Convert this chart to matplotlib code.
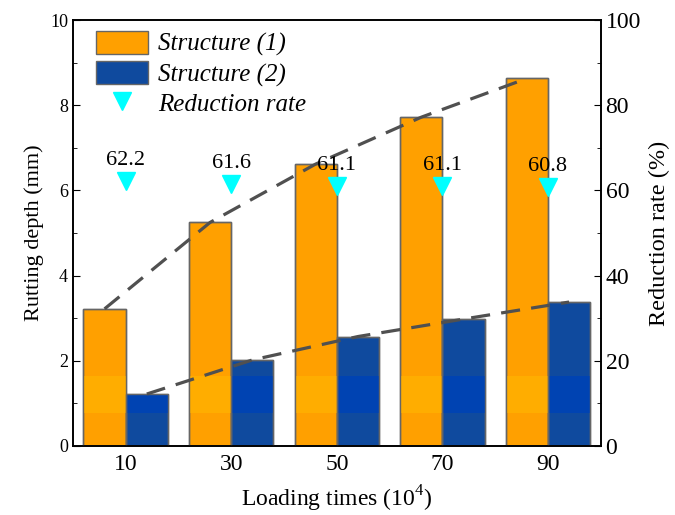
import matplotlib.pyplot as plt
import numpy as np
from matplotlib.ticker import MultipleLocator

plt.rcParams['font.family'] = ['Liberation Serif', 'DejaVu Serif']
plt.rcParams['mathtext.fontset'] = 'custom'
plt.rcParams['mathtext.rm'] = 'Liberation Serif'

loading = ['10', '30', '50', '70', '90']
depth_s1 = [3.22, 5.25, 6.62, 7.72, 8.63]   # Structure (1), mm
depth_s2 = [1.22, 2.02, 2.57, 2.98, 3.38]   # Structure (2), mm
reduction = [62.2, 61.6, 61.1, 61.1, 60.8]  # %

c1 = '#FFA000'
c1_band = '#FFAD00'
c2 = '#0F4A9E'
c2_band = '#0043B2'
band_lo, band_hi = 0.77, 1.64   # lighter stripe in the bars (gradient look)

x = np.arange(len(loading))
w = 0.4

fig = plt.figure(figsize=(6.75, 5.15), dpi=100)
ax = fig.add_axes([0.108, 0.134, 0.782, 0.827])
ax2 = ax.twinx()

b1 = ax.bar(x - w/2, depth_s1, w, color=c1, edgecolor='#666666', linewidth=1.0,
            label='Structure (1)', zorder=2)
b2 = ax.bar(x + w/2, depth_s2, w, color=c2, edgecolor='#666666', linewidth=1.0,
            label='Structure (2)', zorder=2)
# stripe overlay
for xs, vals, cb in [(x - w/2, depth_s1, c1_band), (x + w/2, depth_s2, c2_band)]:
    for xi, v in zip(xs, vals):
        top = min(v, band_hi)
        ax.bar(xi, top - band_lo, w, bottom=band_lo, color=cb, linewidth=0, zorder=2.5)
# redraw edges on top of stripe
ax.bar(x - w/2, depth_s1, w, fill=False, edgecolor='#666666', linewidth=1.0, zorder=3)
ax.bar(x + w/2, depth_s2, w, fill=False, edgecolor='#666666', linewidth=1.0, zorder=3)

# trend lines through bar tops
ax.plot(x - w/2, depth_s1, ls=(0, (6, 3.5)), color='#505050', lw=2.3, zorder=4)
ax.plot(x + w/2, depth_s2, ls=(0, (6, 3.5)), color='#505050', lw=2.3, zorder=4)

ax.set_xlim(-0.5, 4.5)
ax.set_ylim(0, 10)
ax.set_xticks(x)
ax.set_xticklabels(loading, fontsize=17)
ax.yaxis.set_major_locator(MultipleLocator(2))
ax.yaxis.set_minor_locator(MultipleLocator(1))
ax.tick_params(axis='x', length=0, pad=6)
ax.tick_params(axis='y', which='major', direction='in', length=5, labelsize=13)
ax.tick_params(axis='y', which='minor', direction='in', length=3)
ax.set_ylabel('Rutting depth (mm)', fontsize=16, labelpad=4)
ax.set_xlabel(r'Loading times (10$^{4}$)', fontsize=17, labelpad=6)

m = ax2.plot(x, reduction, ls='none', marker='v', color='#00FFFF', markersize=13,
             label='Reduction rate', zorder=5)
for xi, r in zip(x, reduction):
    ax2.text(xi, r + 2.6, f'{r:.1f}', ha='center', va='bottom', fontsize=16)
ax2.set_ylim(0, 100)
ax2.yaxis.set_major_locator(MultipleLocator(20))
ax2.yaxis.set_minor_locator(MultipleLocator(10))
ax2.tick_params(axis='y', which='major', direction='in', length=5, labelsize=17)
ax2.tick_params(axis='y', which='minor', direction='in', length=3)
ax2.set_ylabel('Reduction rate (%)', fontsize=17.5, labelpad=6)

for a in (ax, ax2):
    for s in a.spines.values():
        s.set_linewidth(1.2)

ax.legend([b1, b2, m[0]], ['Structure (1)', 'Structure (2)', 'Reduction rate'],
          loc='upper left', frameon=False, prop={'style': 'italic', 'size': 18},
          handlelength=2.1, handleheight=1.0, labelspacing=0.2,
          borderaxespad=0.3, handletextpad=0.4, bbox_to_anchor=(0.01, 1.015))

fig.savefig('out.png', dpi=100)
